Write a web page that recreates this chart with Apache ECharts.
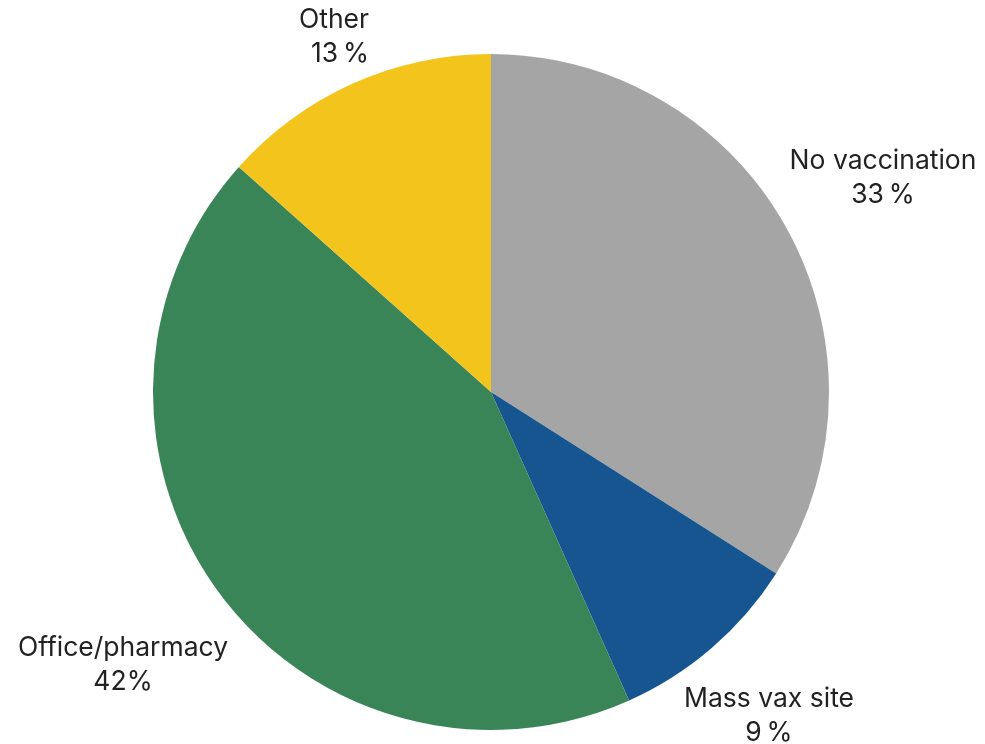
<!DOCTYPE html>
<html>
<head>
<meta charset="utf-8">
<script src="https://cdn.jsdelivr.net/npm/echarts@6/dist/echarts.min.js"></script>
<style>
  html, body { margin: 0; padding: 0; background: #ffffff; }
  #chart { width: 985px; height: 744px; }
</style>
</head>
<body>
<div id="chart"></div>
<script>
// Where people got (or did not get) vaccinated, share of respondents
const categories = ['No vaccination', 'Mass vax site', 'Office/pharmacy', 'Other'];
const shares = [33, 9, 42, 13];
const percentGap = ['\u2009', '\u2009', '', '\u2009'];
const sliceColors = ['#a5a5a5', '#175591', '#3a8558', '#f3c41b'];

// Label anchor points (block centres) and alignment for each slice
const labelSpots = [
  { x: 883, y: 178, align: 'center' },
  { x: 769, y: 716, align: 'center' },
  { x: 123, y: 665, align: 'center' },
  { x: 369, y: 37, align: 'right' }
];

const chart = echarts.init(document.getElementById('chart'), null, { renderer: 'canvas' });

chart.setOption({
  backgroundColor: '#ffffff',
  animation: false,
  series: [{
    type: 'pie',
    center: [491, 392],
    radius: [0, 338],
    startAngle: 90,
    clockwise: true,
    avoidLabelOverlap: false,
    data: categories.map((name, i) => ({
      name: name,
      value: shares[i],
      itemStyle: { color: sliceColors[i] }
    })),
    itemStyle: { borderWidth: 0 },
    label: {
      show: true,
      position: 'outside',
      formatter: (p) => p.name + '\n' + p.value + percentGap[p.dataIndex] + '%',
      fontFamily: 'Inter, "Open Sans", sans-serif',
      fontSize: 26.5,
      lineHeight: 34,
      color: '#222222'
    },
    labelLine: { show: false },
    labelLayout: (params) => {
      const s = labelSpots[params.dataIndex];
      return { x: s.x, y: s.y, align: s.align, verticalAlign: 'middle' };
    },
    emphasis: { disabled: true }
  }]
});
</script>
</body>
</html>
